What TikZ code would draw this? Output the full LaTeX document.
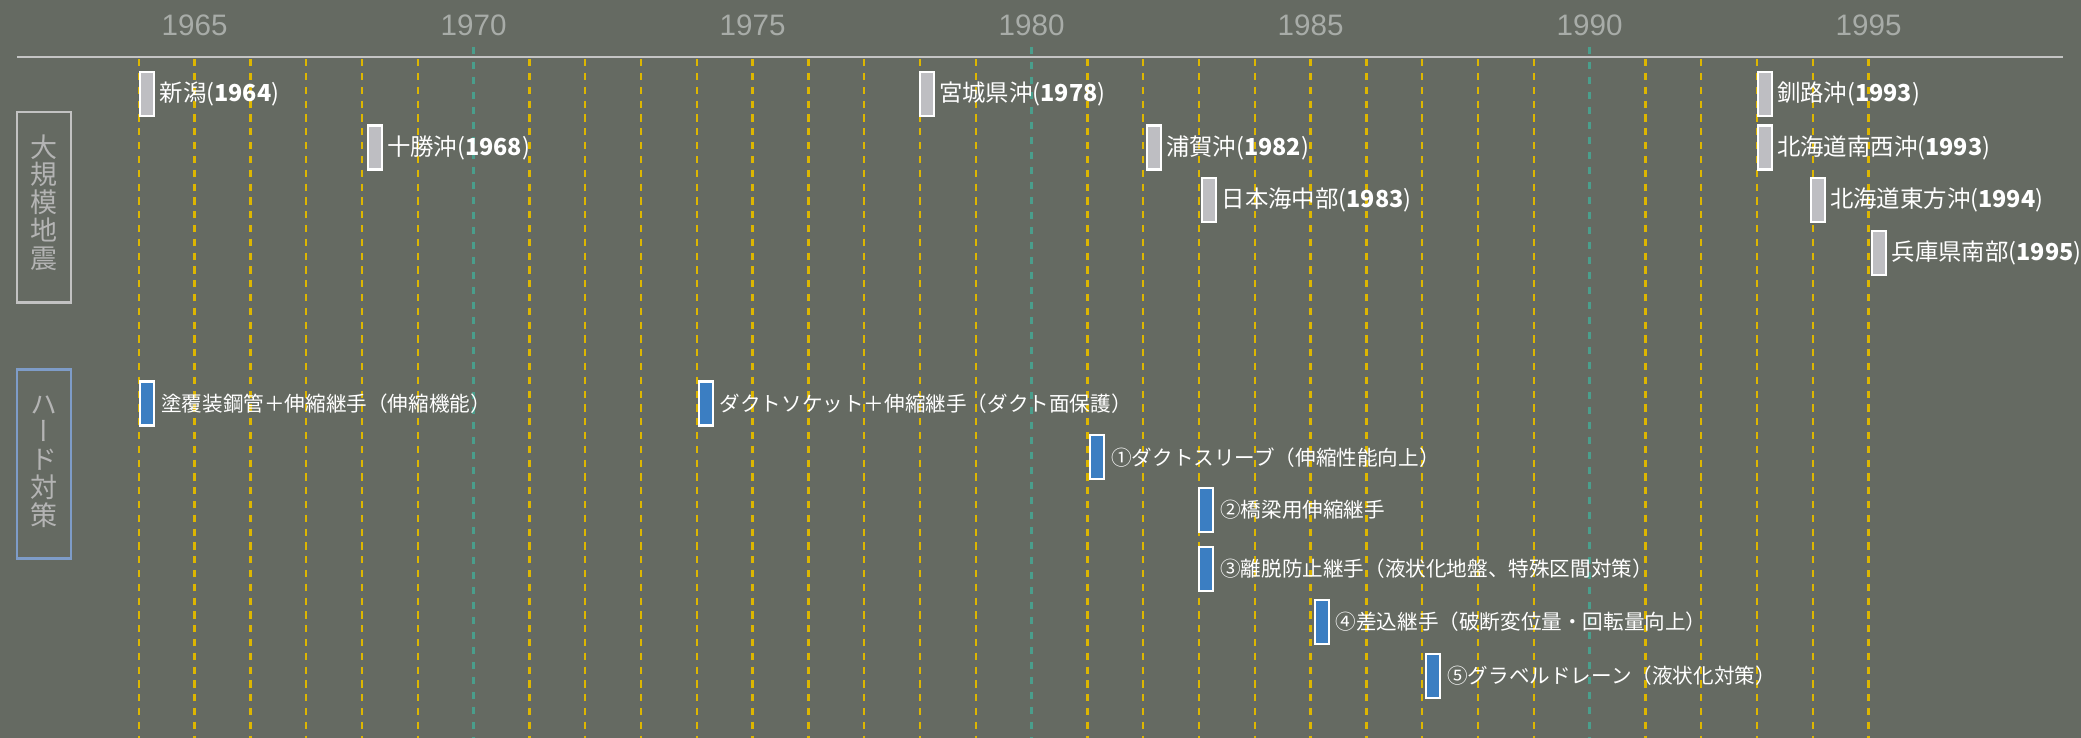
\documentclass[tikz,border=0pt]{standalone}
\usepackage{fontspec}
\usepackage{graphicx}
\setmainfont{Liberation Sans}
\newfontfamily\jp{Noto Sans CJK JP}
\newfontfamily\jpv[RawFeature=+vert]{Noto Sans CJK JP}
\definecolor{bg}{HTML}{656A62}
\definecolor{yline}{HTML}{DDB600}
\definecolor{tline}{HTML}{4A9E8C}
\definecolor{axisc}{HTML}{C4C4C4}
\definecolor{yeartext}{HTML}{A8ACA8}
\definecolor{quakefill}{HTML}{BEBEC2}
\definecolor{hardfill}{HTML}{3B7EC2}
\definecolor{box1c}{HTML}{C2C2C2}
\definecolor{box2c}{HTML}{7E9CC8}
\definecolor{sidetextc}{HTML}{B4B4B4}
\tikzset{
  yellowline/.style={yline, line width=1.15pt, dash pattern=on 3.6pt off 3.3pt},
  tealline/.style={tline, line width=1.3pt, dash pattern=on 3.7pt off 3.8pt},
  axisline/.style={axisc, line width=1.1pt},
  yearlbl/.style={text=yeartext, font=\fontsize{14.8}{16}\selectfont, inner sep=0pt},
  quake/.style={draw=white, line width=1.1pt, fill=quakefill, minimum width=7pt, minimum height=22pt, inner sep=0pt, anchor=west},
  hard/.style={quake, fill=hardfill},
  qlabel/.style={anchor=west, text=white, font=\jp\fontsize{11.7}{14}\selectfont, inner sep=2pt},
  hlabel/.style={anchor=west, text=white, font=\jp\fontsize{10.3}{12}\selectfont, inner sep=2.8pt},
  sidebox/.style={line width=1.2pt, minimum width=27pt, inner sep=0pt},
  sidetext/.style={text=sidetextc, font=\jpv\fontsize{13.5}{13.9}\selectfont, align=center, inner sep=0pt},
}
\begin{document}
\begin{tikzpicture}[x=0.5pt,y=-0.5pt]
\fill[bg] (0,0) rectangle (2081,738);
\useasboundingbox (0,0) rectangle (2081,738);
% vertical year lines
\foreach \yr in {1964,...,1995} {
  \pgfmathsetmacro\xx{138.8+(\yr-1964)*55.8}
  \pgfmathtruncatemacro\m{mod(\yr,10)}
  \ifnum\m=0
    \draw[tealline] (\xx,46.7) -- (\xx,738);
  \else
    \draw[yellowline] (\xx,59.3) -- (\xx,738);
  \fi
}
% axis
\coordinate (axL) at (17,56.7);
\coordinate (axR) at (2063,56.7);
\draw[axisline] (axL) -- (axR);
% year labels
\foreach \yr in {1965,1970,...,1995} {
  \node[yearlbl] (y\yr) at ({138.8+(\yr-1964)*55.8},25.5) {\yr};
}
% side boxes
\node[sidebox, draw=box1c, minimum height=95pt] (b1) at (44,207.3) {};
\node[sidetext] (t1) at (44,202.5) {大\\規\\模\\地\\震};
\node[sidebox, draw=box2c, minimum height=94.5pt] (b2) at (44,463.8) {};
\node[sidetext] (t2) at (44,461.5) {ハ\\ー\\ド\\対\\策};
% earthquakes
\node[quake] (e1) at (139,94.3) {};
\node[qlabel] (l1) at (e1.east) {新潟(\textbf{1964})};
\node[quake] (e2) at (366.5,147.5) {};
\node[qlabel] (l2) at (e2.east) {十勝沖(\textbf{1968})};
\node[quake] (e3) at (918.5,94.3) {};
\node[qlabel] (l3) at (e3.east) {宮城県沖(\textbf{1978})};
\node[quake] (e4) at (1145.5,147.5) {};
\node[qlabel] (l4) at (e4.east) {浦賀沖(\textbf{1982})};
\node[quake] (e5) at (1201,200.3) {};
\node[qlabel] (l5) at (e5.east) {日本海中部(\textbf{1983})};
\node[quake] (e6) at (1756.5,94.3) {};
\node[qlabel] (l6) at (e6.east) {釧路沖(\textbf{1993})};
\node[quake] (e7) at (1756.5,147.5) {};
\node[qlabel] (l7) at (e7.east) {北海道南西沖(\textbf{1993})};
\node[quake] (e8) at (1809.5,200.3) {};
\node[qlabel] (l8) at (e8.east) {北海道東方沖(\textbf{1994})};
\node[quake] (e9) at (1871,253.3) {};
\node[qlabel] (l9) at (e9.east) {兵庫県南部(\textbf{1995})};
% hard measures
\node[hard] (h1) at (139,403.5) {};
\node[hlabel] (m1) at (h1.east) {塗覆装鋼管＋伸縮継手（伸縮機能）};
\node[hard] (h2) at (697.5,403.5) {};
\node[hlabel] (m2) at (h2.east) {ダクトソケット＋伸縮継手（ダクト面保護）};
\node[hard] (h3) at (1089,457.2) {};
\node[hlabel] (m3) at (h3.east) {①ダクトスリーブ（伸縮性能向上）};
\node[hard] (h4) at (1198,510) {};
\node[hlabel] (m4) at (h4.east) {②橋梁用伸縮継手};
\node[hard] (h5) at (1198,569) {};
\node[hlabel] (m5) at (h5.east) {③離脱防止継手（液状化地盤、特殊区間対策）};
\node[hard] (h6) at (1313.5,621.7) {};
\node[hlabel] (m6) at (h6.east) {④差込継手（破断変位量・回転量向上）};
\node[hard] (h7) at (1425,675.8) {};
\node[hlabel] (m7) at (h7.east) {⑤グラベルドレーン（液状化対策）};
\end{tikzpicture}
\end{document}
